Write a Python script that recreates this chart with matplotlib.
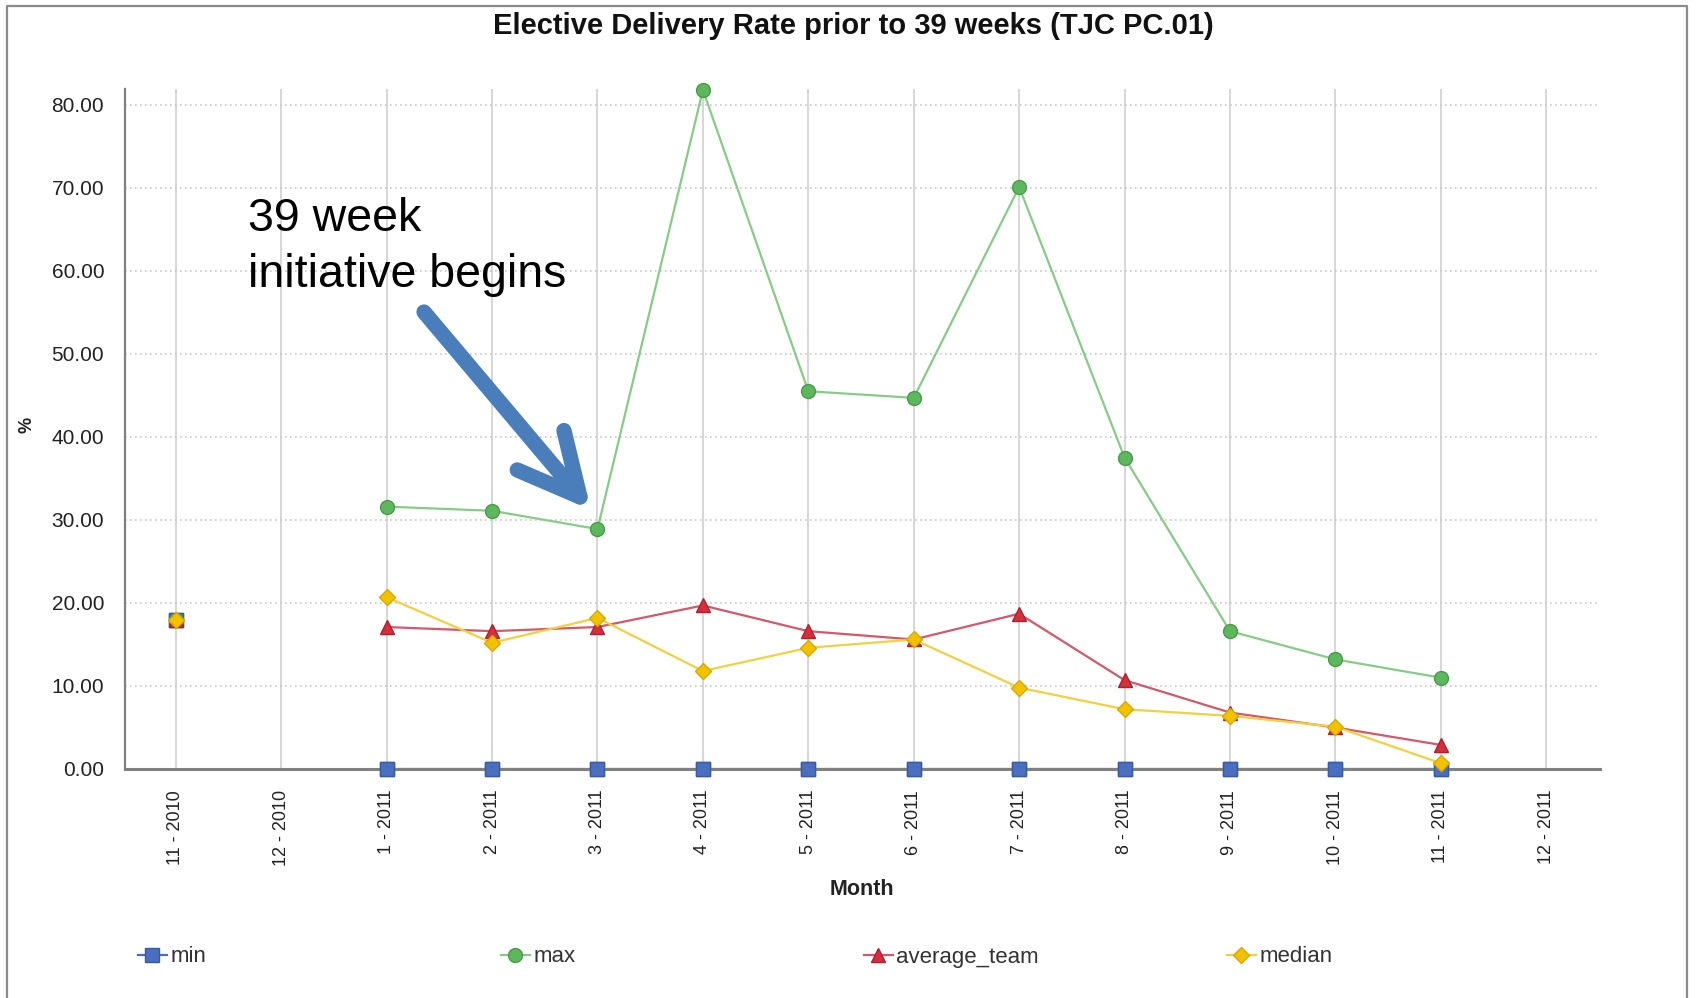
import numpy as np
import matplotlib
matplotlib.use("Agg")
import matplotlib.pyplot as plt
from matplotlib.lines import Line2D

plt.rcParams['font.family'] = ['Liberation Sans', 'DejaVu Sans']

months = ["11 - 2010", "12 - 2010", "1 - 2011", "2 - 2011", "3 - 2011", "4 - 2011",
          "5 - 2011", "6 - 2011", "7 - 2011", "8 - 2011", "9 - 2011", "10 - 2011",
          "11 - 2011", "12 - 2011"]
nan = np.nan
min_vals = [18.0, nan, 0, 0, 0, 0, 0, 0, 0, 0, 0, 0, 0, nan]
max_vals = [18.0, nan, 31.6, 31.1, 28.9, 81.8, 45.5, 44.7, 70.1, 37.5, 16.6, 13.2, 11.0, nan]
avg_vals = [18.0, nan, 17.1, 16.6, 17.1, 19.7, 16.6, 15.6, 18.7, 10.7, 6.8, 5.0, 2.9, nan]
median_vals = [18.0, nan, 20.7, 15.2, 18.2, 11.8, 14.6, 15.6, 9.8, 7.2, 6.4, 5.1, 0.7, nan]
yticks = [0, 10, 20, 30, 40, 50, 60, 70, 80]

W, H = 1701, 998
fig = plt.figure(figsize=(W / 100, H / 100), dpi=100)
ax = fig.add_axes([125 / W, 1 - 769 / H, (1600 - 125) / W, (769 - 89) / H])

x = np.arange(len(months))

series = [
    ("min", min_vals, "s", "#4A6FBF", "#4A6FBF", "#3A5A9F", 9.5),
    ("max", max_vals, "o", "#86CC86", "#5DB85D", "#4A9A4A", 10),
    ("average_team", avg_vals, "^", "#D4586A", "#D2303C", "#B0202C", 10.5),
    ("median", median_vals, "D", "#F2D040", "#F2C200", "#D8A800", 8),
]
handles = []
for i, (name, vals, mk, lc, fc, ec, ms) in enumerate(series):
    z = 2 if i == 0 else 3
    h, = ax.plot(x, vals, color=lc, lw=1.6, marker=mk, markersize=ms,
                 markerfacecolor=fc, markeredgecolor=ec, markeredgewidth=1,
                 clip_on=False, zorder=z, label=name)
    if i == 0:
        # markers on top of the axis line, line itself hidden beneath it
        ax.plot(x, vals, ls="none", marker=mk, markersize=ms,
                markerfacecolor=fc, markeredgecolor=ec, markeredgewidth=1,
                clip_on=False, zorder=3)
    handles.append(h)

ax.set_xlim(-0.482, 13.51)
ax.set_ylim(0, 81.9)
ax.set_xticks(x)
ax.set_xticklabels(months, rotation=90, fontsize=13, color="#222222")
ax.set_yticks(yticks)
ax.set_yticklabels([f"{v:.2f}" for v in yticks], fontsize=15, color="#222222")
ax.tick_params(axis='x', length=0, pad=15)
ax.tick_params(axis='y', length=0, pad=15)

ax.xaxis.grid(True, color="#D0D0D0", lw=1.2, ls="-")
ax.yaxis.grid(True, color="#C8C8C8", lw=1.2, ls=(0, (1, 2)))
ax.set_axisbelow(True)
for s in ["top", "right"]:
    ax.spines[s].set_visible(False)
ax.spines["left"].set_color("#808080")
ax.spines["bottom"].set_color("#808080")
ax.spines["left"].set_linewidth(1.6)
ax.spines["bottom"].set_linewidth(2.2)
ax.spines["bottom"].set_zorder(2.5)

# title and axis labels
fig.text(853 / W, 1 - 34 / H, "Elective Delivery Rate prior to 39 weeks (TJC PC.01)",
         ha="center", va="baseline", fontsize=21, fontweight="bold", color="#111111")
fig.text(862 / W, 1 - 895 / H, "Month", ha="center", va="baseline",
         fontsize=15.5, fontweight="bold", color="#222222")
fig.text(27 / W, 1 - 425 / H, "%", ha="center", va="center", rotation=90,
         fontsize=13, fontweight="bold", color="#222222")

# legend entries
leg_x = [138, 501, 864, 1227]
for h, lx in zip(handles, leg_x):
    fig.legend(handles=[h], loc="center left",
               bbox_to_anchor=(lx / W, 1 - 957 / H), frameon=False,
               fontsize=16, handlelength=1.3, handletextpad=0.15,
               borderpad=0, borderaxespad=0, labelcolor="#333333")

# annotation
fig.text(248 / W, 1 - 231 / H, "39 week", ha="left", va="baseline",
         fontsize=33.5, color="black")
fig.text(248 / W, 1 - 287 / H, "initiative begins", ha="left", va="baseline",
         fontsize=33.5, color="black")
ax.annotate("", xy=(591, H - 510), xycoords="figure pixels",
            xytext=(424, H - 312), textcoords="figure pixels",
            arrowprops=dict(arrowstyle="->,head_length=4.4,head_width=2.2",
                            mutation_scale=10, color="#4A7EBB", lw=11,
                            shrinkA=0, shrinkB=0, capstyle="round",
                            joinstyle="round"),
            annotation_clip=False)

# outer frame (open at the bottom)
fig.add_artist(Line2D([7 / W, 7 / W, 1687 / W, 1687 / W],
                      [0, 1 - 6 / H, 1 - 6 / H, 0],
                      transform=fig.transFigure, color="#8A8A8A", lw=1.6))

fig.savefig("out.png", dpi=100)
